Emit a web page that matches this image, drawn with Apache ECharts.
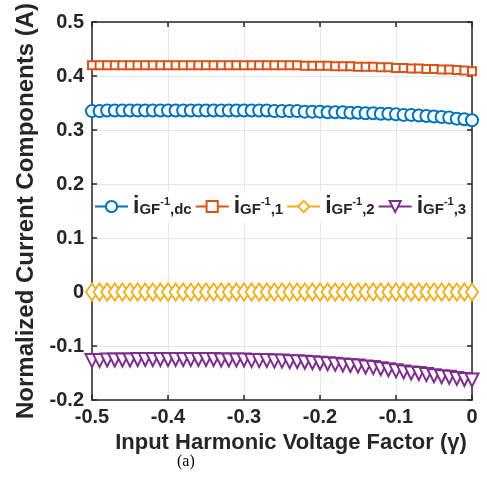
<!DOCTYPE html>
<html><head><meta charset="utf-8">
<script src="https://cdn.jsdelivr.net/npm/echarts@6/dist/echarts.min.js"></script>
<style>html,body{margin:0;padding:0;background:#fff}#c{width:487px;height:491px}</style>
</head><body><div id="c"></div>
<script>
const gamma = [-0.50,-0.49,-0.48,-0.47,-0.46,-0.45,-0.44,-0.43,-0.42,-0.41,-0.40,-0.39,-0.38,-0.37,-0.36,-0.35,-0.34,-0.33,-0.32,-0.31,-0.30,-0.29,-0.28,-0.27,-0.26,-0.25,-0.24,-0.23,-0.22,-0.21,-0.20,-0.19,-0.18,-0.17,-0.16,-0.15,-0.14,-0.13,-0.12,-0.11,-0.10,-0.09,-0.08,-0.07,-0.06,-0.05,-0.04,-0.03,-0.02,-0.01,0.00];
const iDc = [0.335,0.335,0.336,0.336,0.336,0.336,0.336,0.336,0.336,0.336,0.336,0.336,0.336,0.336,0.336,0.336,0.336,0.336,0.336,0.336,0.336,
  0.336,0.336,0.336,0.335,0.335,0.335,0.335,0.334,0.334,0.334,0.333,0.333,0.333,0.332,0.332,0.331,0.331,0.330,0.330,0.329,0.328,0.328,0.327,0.326,0.325,0.324,0.323,0.321,0.320,0.318];
const i1 = [0.420,0.420,0.420,0.420,0.420,0.420,0.420,0.420,0.420,0.420,0.420,0.420,0.420,0.420,0.420,0.420,0.420,0.420,0.420,0.420,0.420,0.420,0.420,0.420,0.420,0.420,
  0.420,0.420,0.419,0.419,0.419,0.419,0.418,0.418,0.418,0.417,0.417,0.417,0.416,0.416,0.415,0.415,0.414,0.414,0.413,0.413,0.412,0.412,0.411,0.410,0.409];
const i2 = [0,0,0,0,0,0,0,0,0,0,0,0,0,0,0,0,0,0,0,0,0,0,0,0,0,0,0,0,0,0,0,0,0,0,0,0,0,0,0,0,0,0,0,0,0,0,0,0,0,0,0];
const i3 = [-0.127,-0.127,-0.126,-0.126,-0.126,-0.126,-0.125,-0.125,-0.125,-0.125,-0.125,-0.125,-0.125,-0.125,-0.125,-0.125,-0.125,-0.126,-0.126,-0.126,-0.126,
  -0.127,-0.127,-0.127,-0.128,-0.128,-0.129,-0.129,-0.130,-0.131,-0.132,-0.133,-0.134,-0.135,-0.136,-0.137,-0.139,-0.140,-0.142,-0.144,-0.146,-0.148,-0.150,-0.151,-0.153,-0.155,-0.157,-0.158,-0.160,-0.162,-0.163];
const seriesNames = ['dc','1','2','3'];
const xTickValues = [-0.5,-0.4,-0.3,-0.2,-0.1,0];
const xTickLabels = ['-0.5','-0.4','-0.3','-0.2','-0.1','0'];
const yTickValues = [-0.2,-0.1,0,0.1,0.2,0.3,0.4,0.5];
const yTickLabels = ['-0.2','-0.1','0','0.1','0.2','0.3','0.4','0.5'];

function lab(vals, labels){
  return function(v){
    let best=0, d=1e9;
    vals.forEach((t,k)=>{ if(Math.abs(t-v)<d){d=Math.abs(t-v);best=k;} });
    return labels[best];
  };
}
const colors = ['#0072BD','#D95319','#EDB120','#7E2F8E'];
const axisColor = '#262626';
const font = 'Liberation Sans, Arial, sans-serif';
const pair = (ys)=>gamma.map((g,k)=>[g,ys[k]]);

const chart = echarts.init(document.getElementById('c'), null, {renderer:'canvas'});
const commonAxis = {
  axisLine:{show:true, onZero:false, lineStyle:{color:axisColor,width:1.5}},
  axisTick:{show:true, inside:true, length:5, lineStyle:{color:axisColor,width:1.5}}
};
chart.setOption({
  animation:false,
  backgroundColor:'#fff',
  grid:{left:92, top:19, right:15, bottom:91},
  legend:{
    left:93, top:191, padding:[1,4,1,1], itemGap:3,
    backgroundColor:'#fff',
    itemWidth:33, itemHeight:14,
    data:seriesNames,
    formatter: function(n){ return '{i|i}{s|GF}{p|-1}{s|,'+n+'}'; },
    textStyle:{
      fontFamily:font, fontWeight:'bold', color:axisColor,
      rich:{
        i:{fontSize:23, fontWeight:'bold', fontFamily:font, lineHeight:30, color:axisColor},
        s:{fontSize:15, fontWeight:'bold', fontFamily:font, lineHeight:24, padding:[7,0,0,0], color:axisColor},
        p:{fontSize:11, fontWeight:'bold', fontFamily:font, lineHeight:12, padding:[4,0,14,0], color:axisColor}
      }
    }
  },
  xAxis:[{
    type:'value', min:-0.5, max:0, interval:0.1, position:'bottom',
    ...commonAxis,
    axisLabel:{margin:7, fontSize:20, fontWeight:'bold', fontFamily:font, color:axisColor, formatter:lab(xTickValues,xTickLabels)},
    splitLine:{show:true, lineStyle:{color:'#e6e6e6',width:1}},
    name:'Input Harmonic Voltage Factor (γ)', nameLocation:'middle', nameGap:31,
    nameTextStyle:{fontSize:22, fontWeight:'bold', fontFamily:font, color:axisColor, padding:[0,0,0,18]}
  },{
    type:'value', min:-0.5, max:0, interval:0.1, position:'top',
    ...commonAxis, axisLabel:{show:false}, splitLine:{show:false}
  }],
  yAxis:[{
    type:'value', min:-0.2, max:0.5, interval:0.1, position:'left',
    ...commonAxis,
    axisLabel:{margin:8, fontSize:20, fontWeight:'bold', fontFamily:font, color:axisColor, formatter:lab(yTickValues,yTickLabels)},
    splitLine:{show:true, lineStyle:{color:'#e6e6e6',width:1}},
    name:'Normalized Current Components (A)', nameLocation:'middle', nameGap:49,
    nameTextStyle:{fontSize:24, fontWeight:'bold', fontFamily:font, color:axisColor}
  },{
    type:'value', min:-0.2, max:0.5, interval:0.1, position:'right',
    ...commonAxis, axisLabel:{show:false}, splitLine:{show:false}
  }],
  series:[
    {name:'dc', type:'line', data:pair(iDc), symbol:'emptyCircle', symbolSize:12, color:colors[0],
     lineStyle:{width:2}, itemStyle:{borderWidth:2}},
    {name:'1', type:'line', data:pair(i1), symbol:'emptyRect', symbolSize:8, color:colors[1],
     lineStyle:{width:2}, itemStyle:{borderWidth:2}},
    {name:'2', type:'line', data:pair(i2), symbol:'emptyDiamond', symbolSize:[12,17], color:colors[2],
     lineStyle:{width:2}, itemStyle:{borderWidth:2}},
    {name:'3', type:'line', data:pair(i3), symbol:'emptyTriangle', symbolRotate:180, symbolSize:[13,13], color:colors[3],
     lineStyle:{width:2}, itemStyle:{borderWidth:2}}
  ],
  graphic:[{type:'text', left:177, top:454, style:{text:'(a)', fontFamily:'Liberation Serif, Times New Roman, serif', fontSize:16, fill:'#000'}}]
});
</script></body></html>
